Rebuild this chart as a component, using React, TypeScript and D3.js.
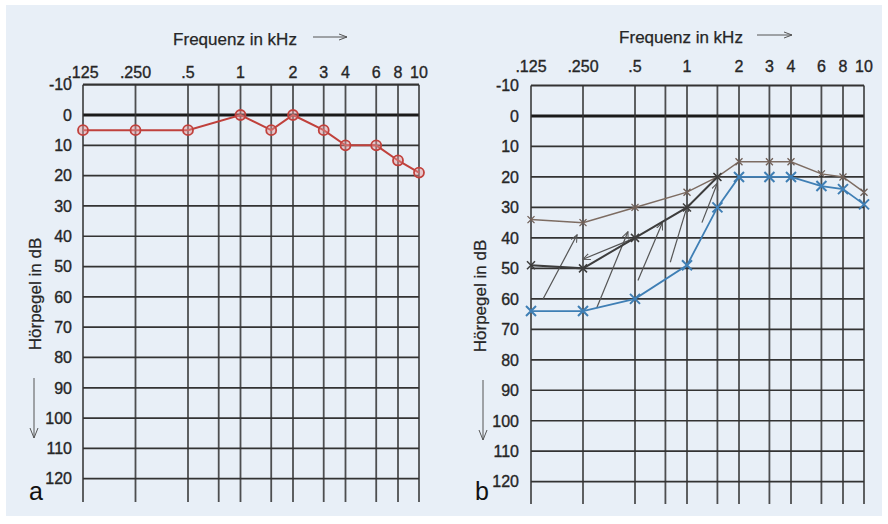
import React from "react";
import * as d3 from "d3";

const freqs = [0.125, 0.25, 0.5, 1, 1.5, 2, 3, 4, 6, 8, 10];
const gridFreqs = [0.125, 0.25, 0.5, 0.75, 1, 1.5, 2, 3, 4, 6, 8, 10];
const freqLabels = [".125", ".250", ".5", "1", "2", "3", "4", "6", "8", "10"];
const freqLabelPos = [0.125, 0.25, 0.5, 1, 2, 3, 4, 6, 8, 10];
const dbTicks = [-10, 0, 10, 20, 30, 40, 50, 60, 70, 80, 90, 100, 110, 120];

// Panel a
const redValues = [5, 5, 5, 0, 5, 0, 5, 10, 10, 15, 19];

// Panel b
const upperValues = [34, 35, 30, 25, 20, 15, 15, 15, 19, 20, 25];
const middleFreqs = [0.125, 0.25, 0.5, 1, 1.5];
const middleValues = [49, 50, 40, 30, 20];
const blueValues = [64, 64, 60, 49, 30, 20, 20, 20, 23, 24, 29];
const arrowFrom = [[0.147, 60], [0.3, 63], [0.52, 54], [0.8, 48], [1.22, 35], [0.5, 40]];
const arrowTo = [[0.231, 39], [0.455, 38], [0.72, 35], [1.01, 29], [1.5, 22], [0.25, 47]];

const FONT = "'Liberation Sans', Arial, Helvetica, sans-serif";
const GRID = "#333";
const TXT = "#262626";

type PanelProps = {
  xr: number[];
  yr: number[];
  vBottom: number;
  tickRight: number;
  topBase: number;
  titleX: number;
  titleBase: number;
  titleArrow: number[];
  yLabelX: number;
  yLabelCY: number;
  downX: number;
  downY: number[];
  letter: string;
  letterX: number;
  children?: (x: any, y: any) => React.ReactNode;
};

function Panel(p: PanelProps) {
  const x = d3.scaleLog().domain([0.125, 8, 10]).range(p.xr);
  const y = d3.scaleLinear().domain([-10, 120]).range(p.yr);
  const x0 = p.xr[0];
  const x1 = p.xr[2];
  return (
    <g fontFamily={FONT}>
      {dbTicks.map((d) => (
        <line
          key={"h" + d}
          x1={x0}
          x2={x1}
          y1={y(d)}
          y2={y(d)}
          stroke={d === 0 ? "#1a1a1a" : GRID}
          strokeWidth={d === 0 ? 3 : d === -10 ? 2.2 : 1.7}
        />
      ))}
      {gridFreqs.map((f) => (
        <line
          key={"v" + f}
          x1={x(f)}
          x2={x(f)}
          y1={y(-10)}
          y2={p.vBottom}
          stroke={GRID}
          strokeWidth={1.8}
          opacity={0.85}
        />
      ))}
      {dbTicks.map((d) => (
        <text
          key={"t" + d}
          x={p.tickRight}
          y={y(d)}
          dy="0.36em"
          textAnchor="end"
          fontSize={16}
          fill={TXT}
          stroke={TXT}
          strokeWidth={0.35}
        >
          {d}
        </text>
      ))}
      {freqLabelPos.map((f, i) => (
        <text key={"f" + f} x={x(f)} y={p.topBase} textAnchor="middle" fontSize={16} fill={TXT} stroke={TXT} strokeWidth={0.35}>
          {freqLabels[i]}
        </text>
      ))}
      <text x={p.titleX} y={p.titleBase} textAnchor="middle" fontSize={17} fill={TXT} stroke={TXT} strokeWidth={0.25}>
        Frequenz in kHz
      </text>
      <line x1={p.titleArrow[0]} x2={p.titleArrow[1]} y1={p.titleBase - 8} y2={p.titleBase - 8} stroke="#555" strokeWidth={1} />
      <path
        d={`M${p.titleArrow[1] - 8},${p.titleBase - 11} L${p.titleArrow[1]},${p.titleBase - 8} L${p.titleArrow[1] - 8},${p.titleBase - 5}`}
        fill="none"
        stroke="#555"
        strokeWidth={1}
      />
      <text
        transform={`translate(${p.yLabelX},${p.yLabelCY}) rotate(-90)`}
        dy="0.35em"
        textAnchor="middle"
        fontSize={17}
        fill={TXT}
        stroke={TXT}
        strokeWidth={0.25}
      >
        Hörpegel in dB
      </text>
      <line x1={p.downX} x2={p.downX} y1={p.downY[0]} y2={p.downY[1]} stroke="#555" strokeWidth={1} />
      <path
        d={`M${p.downX - 4},${p.downY[1] - 10} L${p.downX},${p.downY[1]} L${p.downX + 4},${p.downY[1] - 10}`}
        fill="none"
        stroke="#555"
        strokeWidth={1}
      />
      <text x={p.letterX} y={500} fontSize={25} fill="#111">
        {p.letter}
      </text>
      {p.children ? p.children(x, y) : null}
    </g>
  );
}

function xMark(cx: number, cy: number, r: number, color: string, w: number, key: string) {
  return (
    <path
      key={key}
      d={`M${cx - r},${cy - r} L${cx + r},${cy + r} M${cx - r},${cy + r} L${cx + r},${cy - r}`}
      stroke={color}
      strokeWidth={w}
      fill="none"
    />
  );
}

export default function App() {
  return (
    <svg width={888} height={524} style={{ position: "absolute", left: 0, top: 0 }}>
      <defs>
        <marker id="ah" viewBox="0 0 10 10" refX="9" refY="5" markerWidth="8" markerHeight="8" orient="auto" markerUnits="userSpaceOnUse">
          <path d="M0,1 L9,5 L0,9" fill="none" stroke="#555" strokeWidth={1.3} />
        </marker>
      </defs>
      <rect x={0} y={0} width={888} height={524} fill="#ffffff" />
      <rect x={6} y={5} width={876} height={511} fill="#e8eff7" />
      <Panel
        xr={[83, 398, 419]}
        yr={[84.7, 478.7]}
        vBottom={502}
        tickRight={72}
        topBase={78}
        titleX={235}
        titleBase={45}
        titleArrow={[313, 347]}
        yLabelX={35}
        yLabelCY={294}
        downX={34}
        downY={[378, 438]}
        letter="a"
        letterX={29}
      >
        {(x, y) => {
          const line = d3
            .line<number>()
            .x((_, i) => x(freqs[i]))
            .y((d) => y(d));
          return (
            <g>
              <path d={line(redValues) || ""} fill="none" stroke="#c0413c" strokeWidth={2} />
              {redValues.map((d, i) => (
                <circle key={i} cx={x(freqs[i])} cy={y(d)} r={5} fill="rgba(230,150,150,0.45)" stroke="#c0413c" strokeWidth={1.8} />
              ))}
            </g>
          );
        }}
      </Panel>
      <Panel
        xr={[531, 843, 864]}
        yr={[85.5, 481.7]}
        vBottom={504}
        tickRight={519}
        topBase={72}
        titleX={681}
        titleBase={43}
        titleArrow={[757, 792]}
        yLabelX={480}
        yLabelCY={296}
        downX={483}
        downY={[380, 440]}
        letter="b"
        letterX={475}
      >
        {(x, y) => {
          const line = d3
            .line<number>()
            .x((_, i) => x(freqs[i]))
            .y((d) => y(d));
          const midLine = d3
            .line<number>()
            .x((_, i) => x(middleFreqs[i]))
            .y((d) => y(d));
          return (
            <g>
              {arrowFrom.map((a, i) => (
                <line
                  key={"a" + i}
                  x1={x(a[0])}
                  y1={y(a[1])}
                  x2={x(arrowTo[i][0])}
                  y2={y(arrowTo[i][1])}
                  stroke="#555"
                  strokeWidth={1.2}
                  markerEnd="url(#ah)"
                />
              ))}
              <path d={line(upperValues) || ""} fill="none" stroke="#7d6c62" strokeWidth={1.5} />
              {upperValues.map((d, i) => xMark(x(freqs[i]), y(d), 3.5, "#6f5f57", 1.3, "u" + i))}
              <path d={midLine(middleValues) || ""} fill="none" stroke="#3d3d3d" strokeWidth={2} />
              {middleValues.map((d, i) => xMark(x(middleFreqs[i]), y(d), 4, "#3d3d3d", 1.5, "m" + i))}
              <path d={line(blueValues) || ""} fill="none" stroke="#3f7fb5" strokeWidth={1.8} />
              {blueValues.map((d, i) => xMark(x(freqs[i]), y(d), 5, "#3f7fb5", 2, "b" + i))}
            </g>
          );
        }}
      </Panel>
    </svg>
  );
}
